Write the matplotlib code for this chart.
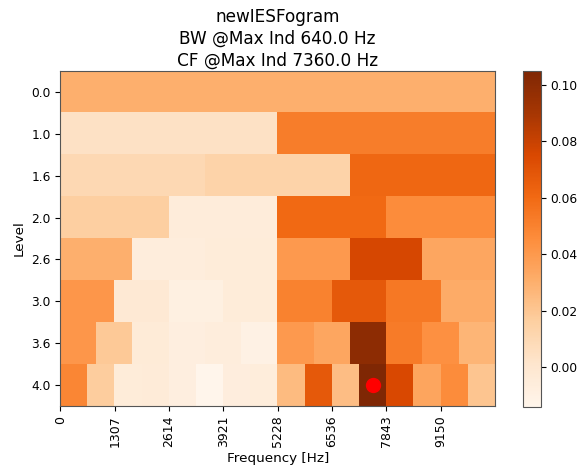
import numpy as np
import matplotlib
matplotlib.use('Agg')
import matplotlib.pyplot as plt

levels = ['0.0', '1.0', '1.6', '2.0', '2.6', '3.0', '3.6', '4.0']
row_00 = [0.030]
row_10 = [0.004, 0.052]
row_16 = [0.010, 0.013, 0.061]
row_20 = [0.016, -0.0055, 0.060, 0.0455]
row_26 = [0.030, -0.0065, -0.005, 0.0395, 0.076, 0.034]
row_30 = [0.041, -0.002, -0.009, -0.005, 0.050, 0.067, 0.054, 0.032]
row_36 = [0.041, 0.019, -0.004, -0.0075, -0.0065, -0.0104, 0.0396, 0.034,
          0.099, 0.0526, 0.044, 0.0277]
row_40 = [0.048, 0.017, -0.005, -0.0045, -0.0075, -0.014, -0.007, -0.006,
          0.025, 0.067, 0.024, 0.105, 0.075, 0.0348, 0.0455, 0.0205]
rows = [row_00, row_10, row_16, row_20, row_26, row_30, row_36, row_40]

xtick_labels = [0, 1307, 2614, 3921, 5228, 6536, 7843, 9150]
cbar_ticks = [0.00, 0.02, 0.04, 0.06, 0.08, 0.10]
f_max = 10456
bw_max = 640.0
cf_max = 7360.0

ncol = 48
grid = np.array([np.repeat(r, ncol // len(r)) for r in rows])

fig = plt.figure(figsize=(5.8, 4.72), dpi=100)
ax = fig.add_axes([0.1043, 0.1398, 0.7491, 0.7098])
im = ax.imshow(grid, aspect='auto', cmap='Oranges', interpolation='nearest',
               extent=(0, f_max, len(levels) - 0.5, -0.5))

# marker at max of the finest level
last = np.array(row_40)
j = int(np.argmax(last))
ax.plot((j + 0.5) * f_max / len(last), len(levels) - 1, 'o', color='red',
        markersize=10)

ax.set_xlim(0, f_max)
ax.set_ylim(len(levels) - 0.5, -0.5)
ax.set_xticks(xtick_labels)
ax.set_xticklabels([str(v) for v in xtick_labels], rotation=90, fontsize=9)
ax.set_yticks(range(len(levels)))
ax.set_yticklabels(levels, fontsize=8.8)
ax.set_xlabel('Frequency [Hz]', fontsize=9.7, labelpad=3)
ax.set_ylabel('Level', fontsize=9.7)
ax.set_title('newIESFogram\nBW @Max Ind %.1f Hz\nCF @Max Ind %.1f Hz' % (bw_max, cf_max),
             fontsize=12.2, linespacing=1.28, pad=4)
for s in ax.spines.values():
    s.set_edgecolor('#555555')

cax = fig.add_axes([0.9022, 0.1383, 0.030, 0.7119])
cb = fig.colorbar(im, cax=cax, ticks=cbar_ticks, format='%.2f')
cb.ax.tick_params(labelsize=8.8)
cb.outline.set_edgecolor('#555555')

fig.savefig('out.png', dpi=100)
